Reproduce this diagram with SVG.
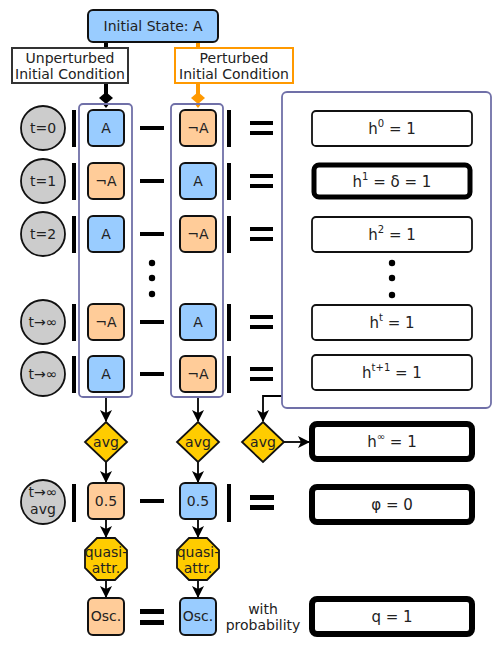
<svg xmlns="http://www.w3.org/2000/svg" width="500" height="652" viewBox="0 0 500 652">
<defs>
<style>
text{font-family:"DejaVu Sans","Liberation Sans",sans-serif;font-size:14px;fill:#222;text-anchor:middle}
.blue{fill:#99ccff;stroke:#111;stroke-width:2}
.orange{fill:#ffcc99;stroke:#111;stroke-width:2}
.gold{fill:#ffcc00;stroke:#111;stroke-width:1.8}
.circ{fill:#cccccc;stroke:#111;stroke-width:1.8}
.col{fill:none;stroke:#7070a8;stroke-width:1.8}
.hbox{fill:#fff;stroke:#111;stroke-width:1.8}
.hthick{fill:#fff;stroke:#000;stroke-width:6}
.bar{fill:#000}
.conn{fill:none;stroke:#000;stroke-width:1.8}
.sup{font-size:10px}
.ht{font-size:15px}
</style>
<marker id="arr" viewBox="0 0 12 12" refX="11" refY="6" markerWidth="12" markerHeight="12" markerUnits="userSpaceOnUse" orient="auto">
<path d="M0,0 L12,6 L0,12 L3,6 z" fill="#000"/>
</marker>
</defs>

<!-- connectors -->
<g id="connectors">
<line x1="106" y1="42" x2="106" y2="48" stroke="#000" stroke-width="4"/>
<line x1="198" y1="42" x2="198" y2="48" stroke="#ff9900" stroke-width="4"/>
<line x1="106" y1="83" x2="106" y2="94" stroke="#000" stroke-width="4"/>
<polygon points="106,92 113,98 106,104 99,98" fill="#000"/>
<polygon points="102,103 110,103 106,108" fill="#000"/>
<line x1="198" y1="83" x2="198" y2="94" stroke="#ff9900" stroke-width="4"/>
<polygon points="198,92 205,98 198,104 191,98" fill="#ff9900"/>
<polygon points="194,103 202,103 198,108" fill="#ff9900"/>
<line class="conn" x1="106" y1="397" x2="106" y2="421" marker-end="url(#arr)"/>
<line class="conn" x1="198" y1="397" x2="198" y2="421" marker-end="url(#arr)"/>
<polyline class="conn" points="282,396 263,396 263,421" marker-end="url(#arr)"/>
<line class="conn" x1="284" y1="442" x2="309" y2="442" marker-end="url(#arr)"/>
<line class="conn" x1="106" y1="462" x2="106" y2="482" marker-end="url(#arr)"/>
<line class="conn" x1="198" y1="462" x2="198" y2="482" marker-end="url(#arr)"/>
<line class="conn" x1="106" y1="520" x2="106" y2="537" marker-end="url(#arr)"/>
<line class="conn" x1="198" y1="520" x2="198" y2="537" marker-end="url(#arr)"/>
<line class="conn" x1="106" y1="581" x2="106" y2="597" marker-end="url(#arr)"/>
<line class="conn" x1="198" y1="581" x2="198" y2="597" marker-end="url(#arr)"/>
</g>

<g id="initial-state">
<rect x="88" y="10" width="130" height="32" rx="5" class="blue"/>
<text x="153" y="31">Initial State: A</text>
</g>
<g id="unperturbed">
<rect x="12" y="48" width="116" height="35" fill="#fff" stroke="#333" stroke-width="2"/>
<text x="70" y="63">Unperturbed</text>
<text x="70" y="79">Initial Condition</text>
</g>
<g id="perturbed">
<rect x="175" y="48" width="118" height="35" fill="#fff" stroke="#ff9900" stroke-width="2"/>
<text x="234" y="63">Perturbed</text>
<text x="234" y="79">Initial Condition</text>
</g>

<g id="column-left"><rect x="79" y="104" width="53" height="293" rx="4" class="col"/></g>
<g id="column-right"><rect x="171" y="104" width="52" height="293" rx="4" class="col"/></g>
<g id="h-panel"><rect x="282" y="92" width="209" height="316" rx="5" class="col"/></g>

<!-- row t=0 -->
<g id="row-t0">
<circle cx="43" cy="128" r="22" class="circ"/><text x="43" y="133">t=0</text>
<rect x="72" y="110" width="4" height="37" class="bar"/>
<rect x="88" y="110" width="36" height="36" rx="5" class="blue"/><text x="106" y="133">A</text>
<rect x="140" y="126" width="24" height="4" class="bar"/>
<rect x="180" y="110" width="36" height="36" rx="5" class="orange"/><text x="198" y="133">¬A</text>
<rect x="227" y="110" width="4" height="37" class="bar"/>
<rect x="250" y="121" width="23" height="4" class="bar"/><rect x="250" y="131" width="23" height="4" class="bar"/>
</g>
<!-- row t=1 -->
<g id="row-t1">
<circle cx="43" cy="181" r="22" class="circ"/><text x="43" y="186">t=1</text>
<rect x="72" y="163" width="4" height="37" class="bar"/>
<rect x="88" y="163" width="36" height="36" rx="5" class="orange"/><text x="106" y="186">¬A</text>
<rect x="140" y="179" width="24" height="4" class="bar"/>
<rect x="180" y="163" width="36" height="36" rx="5" class="blue"/><text x="198" y="186">A</text>
<rect x="227" y="163" width="4" height="37" class="bar"/>
<rect x="250" y="174" width="23" height="4" class="bar"/><rect x="250" y="184" width="23" height="4" class="bar"/>
</g>
<!-- row t=2 -->
<g id="row-t2">
<circle cx="43" cy="234" r="22" class="circ"/><text x="43" y="239">t=2</text>
<rect x="72" y="216" width="4" height="37" class="bar"/>
<rect x="88" y="216" width="36" height="36" rx="5" class="blue"/><text x="106" y="239">A</text>
<rect x="140" y="232" width="24" height="4" class="bar"/>
<rect x="180" y="216" width="36" height="36" rx="5" class="orange"/><text x="198" y="239">¬A</text>
<rect x="227" y="216" width="4" height="37" class="bar"/>
<rect x="250" y="227" width="23" height="4" class="bar"/><rect x="250" y="237" width="23" height="4" class="bar"/>
</g>
<g id="dots-mid">
<circle cx="152" cy="263" r="3.2"/><circle cx="152" cy="278" r="3.2"/><circle cx="152" cy="294" r="3.2"/>
</g>
<!-- row t->inf 1 -->
<g id="row-tinf1">
<circle cx="43" cy="322" r="22" class="circ"/><text x="43" y="327">t→∞</text>
<rect x="72" y="304" width="4" height="37" class="bar"/>
<rect x="88" y="304" width="36" height="36" rx="5" class="orange"/><text x="106" y="327">¬A</text>
<rect x="140" y="320" width="24" height="4" class="bar"/>
<rect x="180" y="304" width="36" height="36" rx="5" class="blue"/><text x="198" y="327">A</text>
<rect x="227" y="304" width="4" height="37" class="bar"/>
<rect x="250" y="315" width="23" height="4" class="bar"/><rect x="250" y="325" width="23" height="4" class="bar"/>
</g>
<!-- row t->inf 2 -->
<g id="row-tinf2">
<circle cx="43" cy="374" r="22" class="circ"/><text x="43" y="379">t→∞</text>
<rect x="72" y="356" width="4" height="37" class="bar"/>
<rect x="88" y="356" width="36" height="36" rx="5" class="blue"/><text x="106" y="379">A</text>
<rect x="140" y="372" width="24" height="4" class="bar"/>
<rect x="180" y="356" width="36" height="36" rx="5" class="orange"/><text x="198" y="379">¬A</text>
<rect x="227" y="356" width="4" height="37" class="bar"/>
<rect x="250" y="367" width="23" height="4" class="bar"/><rect x="250" y="377" width="23" height="4" class="bar"/>
</g>

<!-- h boxes -->
<g id="h0"><rect x="312" y="111" width="160" height="35" rx="4" class="hbox"/><text class="ht" x="392" y="134">h<tspan class="sup" dy="-7">0</tspan><tspan dy="7"> = 1</tspan></text></g>
<g id="h1"><rect x="314" y="165" width="156" height="32" rx="5" class="hthick" style="stroke-width:5"/><text class="ht" x="392" y="187">h<tspan class="sup" dy="-7">1</tspan><tspan dy="7"> = δ = 1</tspan></text></g>
<g id="h2"><rect x="312" y="217" width="160" height="35" rx="4" class="hbox"/><text class="ht" x="392" y="240">h<tspan class="sup" dy="-7">2</tspan><tspan dy="7"> = 1</tspan></text></g>
<g id="dots-h">
<circle cx="392" cy="263" r="3.2"/><circle cx="392" cy="278" r="3.2"/><circle cx="392" cy="295" r="3.2"/>
</g>
<g id="ht"><rect x="312" y="305" width="160" height="35" rx="4" class="hbox"/><text class="ht" x="392" y="328">h<tspan class="sup" dy="-7">t</tspan><tspan dy="7"> = 1</tspan></text></g>
<g id="ht1"><rect x="312" y="355" width="160" height="35" rx="4" class="hbox"/><text class="ht" x="392" y="378">h<tspan class="sup" dy="-7">t+1</tspan><tspan dy="7"> = 1</tspan></text></g>

<!-- avg diamonds -->
<g id="avg-left"><polygon points="106,422 127,442 106,462 85,442" class="gold"/><text x="106" y="447">avg</text></g>
<g id="avg-right"><polygon points="198,422 219,442 198,462 177,442" class="gold"/><text x="198" y="447">avg</text></g>
<g id="avg-h"><polygon points="263,422 284,442 263,462 242,442" class="gold"/><text x="263" y="447">avg</text></g>
<g id="h-inf"><rect x="312" y="424" width="160" height="35" rx="5" class="hthick"/><text class="ht" x="392" y="447">h<tspan class="sup" dy="-7">∞</tspan><tspan dy="7"> = 1</tspan></text></g>

<!-- avg row -->
<g id="row-avg">
<circle cx="43" cy="502" r="22" class="circ"/><text x="43" y="497">t→∞</text><text x="43" y="514">avg</text>
<rect x="72" y="484" width="4" height="38" class="bar"/>
<rect x="88" y="483" width="36" height="36" rx="5" class="orange"/><text x="106" y="506">0.5</text>
<rect x="140" y="499" width="24" height="4" class="bar"/>
<rect x="180" y="483" width="36" height="36" rx="5" class="blue"/><text x="198" y="506">0.5</text>
<rect x="227" y="484" width="4" height="38" class="bar"/>
<rect x="250" y="495" width="24" height="5" class="bar"/><rect x="250" y="505" width="24" height="5" class="bar"/>
</g>
<g id="phi"><rect x="312" y="487" width="160" height="35" rx="5" class="hthick"/><text class="ht" x="392" y="510">φ = 0</text></g>

<g id="quasi-left"><polygon points="97,538 115,538 127,550 127,568 115,580 97,580 85,568 85,550" class="gold"/><text x="106" y="557">quasi-</text><text x="106" y="573">attr.</text></g>
<g id="quasi-right"><polygon points="189,538 207,538 219,550 219,568 207,580 189,580 177,568 177,550" class="gold"/><text x="198" y="557">quasi-</text><text x="198" y="573">attr.</text></g>

<g id="row-osc">
<rect x="88" y="598" width="36" height="37" rx="5" class="orange"/><text x="106" y="621">Osc.</text>
<rect x="140" y="609" width="24" height="5" class="bar"/><rect x="140" y="620" width="24" height="5" class="bar"/>
<rect x="180" y="598" width="36" height="37" rx="5" class="blue"/><text x="198" y="621">Osc.</text>
<text x="263" y="614">with</text><text x="263" y="630">probability</text>
</g>
<g id="q"><rect x="312" y="599" width="160" height="35" rx="5" class="hthick"/><text class="ht" x="392" y="622">q = 1</text></g>
</svg>
